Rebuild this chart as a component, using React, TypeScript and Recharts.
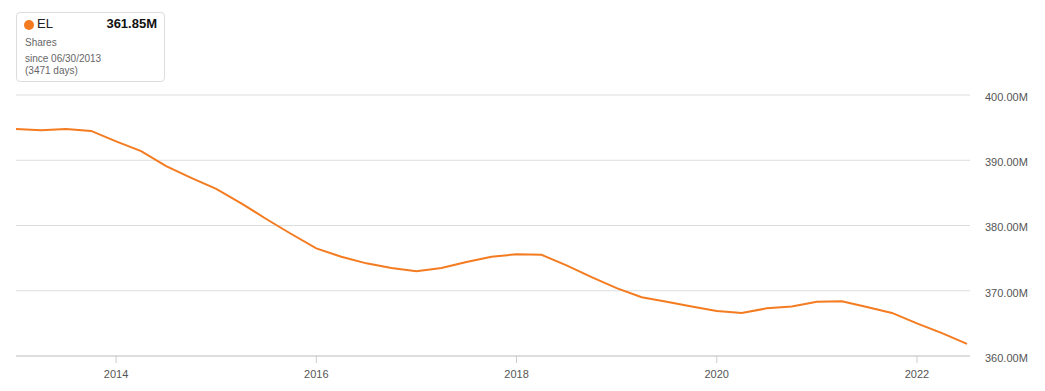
import React from "react";
import { LineChart, Line, XAxis, YAxis, CartesianGrid } from "recharts";

const quarters: number[] = [
  2013.0, 2013.25, 2013.5, 2013.75, 2014.0, 2014.25, 2014.5, 2014.75,
  2015.0, 2015.25, 2015.5, 2015.75, 2016.0, 2016.25, 2016.5, 2016.75,
  2017.0, 2017.25, 2017.5, 2017.75, 2018.0, 2018.25, 2018.5, 2018.75,
  2019.0, 2019.25, 2019.5, 2019.75, 2020.0, 2020.25, 2020.5, 2020.75,
  2021.0, 2021.25, 2021.5, 2021.75, 2022.0, 2022.25, 2022.5,
];

const shares: number[] = [
  394.8, 394.6, 394.8, 394.5, 392.9, 391.4, 389.1, 387.3,
  385.6, 383.4, 381.0, 378.7, 376.5, 375.2, 374.2, 373.5,
  373.0, 373.5, 374.4, 375.2, 375.6, 375.5, 373.9, 372.1,
  370.4, 369.0, 368.3, 367.6, 366.9, 366.6, 367.3, 367.6,
  368.3, 368.4, 367.5, 366.6, 365.0, 363.5, 361.85,
];

const xTicks: number[] = [2014, 2016, 2018, 2020, 2022];
const yTicks: number[] = [360, 370, 380, 390, 400];

const data = quarters.map((t, i) => ({ t, v: shares[i] }));

const FONT = "Arial, 'Liberation Sans', sans-serif";
const ORANGE = "#f47b20";

export default function App() {
  return (
    <div style={{ position: "absolute", left: 0, top: 0, width: 1045, height: 391, fontFamily: FONT }}>
      <LineChart
        width={1045}
        height={391}
        data={data}
        margin={{ top: 95, right: 0, bottom: 0, left: 16 }}
      >
        <CartesianGrid vertical={false} stroke="#dddddd" />
        <XAxis
          dataKey="t"
          type="number"
          domain={[2013, 2022.53]}
          ticks={xTicks}
          allowDataOverflow
          tickFormatter={(v: number) => String(Math.round(v))}
          axisLine={{ stroke: "#cccccc" }}
          tickLine={{ stroke: "#cccccc" }}
          tickSize={7}
          tickMargin={7}
          height={35}
          tick={{ fill: "#555555", fontSize: 11, fontFamily: FONT }}
        />
        <YAxis
          orientation="right"
          domain={[360, 400]}
          ticks={yTicks}
          allowDataOverflow
          tickFormatter={(v: number) => v.toFixed(2) + "M"}
          axisLine={false}
          tickLine={false}
          tickSize={0}
          tickMargin={15}
          width={75}
          tick={{ fill: "#555555", fontSize: 11, fontFamily: FONT, dy: 2 }}
        />
        <Line
          type="linear"
          dataKey="v"
          stroke={ORANGE}
          strokeWidth={2}
          dot={false}
          isAnimationActive={false}
        />
      </LineChart>
      <div
        style={{
          position: "absolute",
          left: 16,
          top: 12,
          width: 149,
          height: 70,
          border: "1px solid #dddddd",
          borderRadius: 4,
          background: "#ffffff",
          boxSizing: "border-box",
        }}
      >
        <div style={{ position: "absolute", left: 7, top: 7, width: 10, height: 10, borderRadius: 5, background: ORANGE }} />
        <div style={{ position: "absolute", left: 20, top: 3, fontSize: 13, color: "#222" }}>EL</div>
        <div style={{ position: "absolute", right: 7, top: 3, fontSize: 13, fontWeight: "bold", color: "#111" }}>361.85M</div>
        <div style={{ position: "absolute", left: 8, top: 24, fontSize: 10, color: "#666" }}>Shares</div>
        <div style={{ position: "absolute", left: 8, top: 40, fontSize: 10, color: "#666" }}>since 06/30/2013</div>
        <div style={{ position: "absolute", left: 8, top: 52, fontSize: 10, color: "#666" }}>(3471 days)</div>
      </div>
    </div>
  );
}
